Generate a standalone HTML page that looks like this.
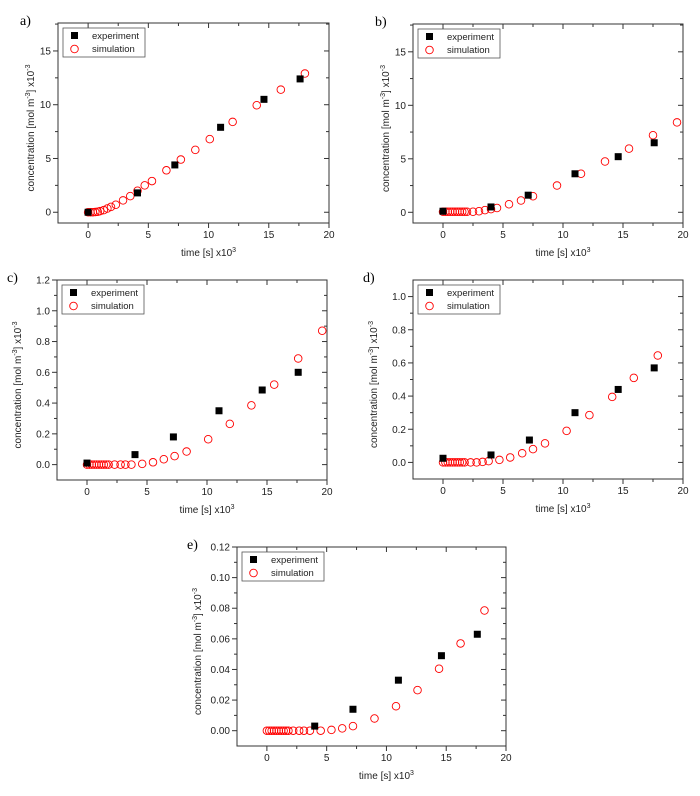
<!DOCTYPE html>
<html><head><meta charset="utf-8">
<style>
body{margin:0;background:#fff;width:700px;height:796px;overflow:hidden}
svg{position:absolute;left:0;top:0}
text{font-family:"Liberation Sans",sans-serif;fill:#222}
.pl{font-family:"Liberation Serif",serif;font-size:14px;fill:#000}
</style></head>
<body>
<svg id="fig" width="700" height="796" viewBox="0 0 700 796"></svg>
<script>
// Panel a
const aExpX=[0,4.1,7.2,11,14.6,17.6];
const aExpY=[0,1.8,4.4,7.9,10.5,12.4];
const aSimX=[0,0.2,0.4,0.6,0.8,1.0,1.3,1.6,1.9,2.3,2.9,3.5,4.1,4.7,5.3,6.5,7.7,8.9,10.1,12,14,16,18];
const aSimY=[0,0,0,0.02,0.05,0.1,0.2,0.35,0.5,0.7,1.1,1.5,2.0,2.5,2.9,3.9,4.9,5.8,6.8,8.4,9.95,11.4,12.9];
const aYTicks=[0,5,10,15];
// Panel b
const bExpX=[0,4,7.1,11,14.6,17.6];
const bExpY=[0.1,0.5,1.6,3.6,5.2,6.5];
const bSimX=[0,0.2,0.4,0.6,0.8,1.0,1.2,1.4,1.6,1.8,2.0,2.5,3,3.5,4,4.5,5.5,6.5,7.5,9.5,11.5,13.5,15.5,17.5,19.5];
const bSimY=[0.05,0.05,0.05,0.05,0.05,0.05,0.05,0.05,0.05,0.05,0.05,0.05,0.1,0.2,0.3,0.4,0.75,1.1,1.5,2.5,3.6,4.75,5.95,7.2,8.4];
const bYTicks=[0,5,10,15];
// Panel c
const cExpX=[0,4,7.2,11,14.6,17.6];
const cExpY=[0.01,0.065,0.18,0.35,0.485,0.6];
const cSimX=[0,0.2,0.4,0.6,0.8,1.0,1.2,1.4,1.6,1.8,2.3,2.8,3.2,3.7,4.6,5.5,6.4,7.3,8.3,10.1,11.9,13.7,15.6,17.6,19.6];
const cSimY=[0,0,0,0,0,0,0,0,0,0,0,0,0,0,0.005,0.015,0.035,0.055,0.085,0.165,0.265,0.385,0.52,0.69,0.87];
const cYTicks=[0,0.2,0.4,0.6,0.8,1.0,1.2];
// Panel d
const dExpX=[0,4,7.2,11,14.6,17.6];
const dExpY=[0.025,0.045,0.135,0.3,0.44,0.57];
const dSimX=[0,0.2,0.4,0.6,0.8,1.0,1.2,1.4,1.6,1.8,2.3,2.8,3.3,3.8,4.7,5.6,6.6,7.5,8.5,10.3,12.2,14.1,15.9,17.9];
const dSimY=[0,0,0,0,0,0,0,0,0,0,0,0,0.003,0.008,0.015,0.03,0.055,0.08,0.115,0.19,0.285,0.395,0.51,0.645];
const dYTicks=[0,0.2,0.4,0.6,0.8,1.0];
// Panel e
const eExpX=[4,7.2,11,14.6,17.6];
const eExpY=[0.003,0.014,0.033,0.049,0.063];
const eSimX=[0,0.2,0.4,0.6,0.8,1.0,1.2,1.4,1.6,1.8,2.2,2.7,3.1,3.6,4.5,5.4,6.3,7.2,9,10.8,12.6,14.4,16.2,18.2];
const eSimY=[0,0,0,0,0,0,0,0,0,0,0,0,0,0,0,0.0005,0.0015,0.003,0.008,0.016,0.0265,0.0405,0.057,0.0785];
const eYTicks=[0,0.02,0.04,0.06,0.08,0.10,0.12];
const xTicks=[0,5,10,15,20];

const NS="http://www.w3.org/2000/svg";
const fig=document.getElementById('fig');
function mk(parent,tag,attrs){const e=document.createElementNS(NS,tag);for(const k in attrs)e.setAttribute(k,attrs[k]);parent.appendChild(e);return e;}

function panel(id,label,L,T,R,B,ymin,ymax,yTicks,dec,expX,expY,simX,simY){
  const g=mk(fig,'g',{});
  
  
  const xmin=-2.5,xmax=20;
  const sx=v=>L+(v-xmin)/(xmax-xmin)*(R-L);
  const sy=v=>B-(v-ymin)/(ymax-ymin)*(B-T);
  const frame=mk(g,'rect',{x:L,y:T,width:R-L,height:B-T,fill:'none',stroke:'#333','stroke-width':1});
  
  
  const ax=mk(g,'g',{stroke:'#333','stroke-width':1});
  
  
  xTicks.forEach((t,i)=>{
    const x=sx(t);
    mk(ax,'line',{x1:x,x2:x,y1:B,y2:B+5});
    mk(ax,'line',{x1:x,x2:x,y1:T,y2:T+5});
    const m=sx(t-2.5);
    if(m>L){mk(ax,'line',{x1:m,x2:m,y1:B,y2:B+3});mk(ax,'line',{x1:m,x2:m,y1:T,y2:T+3});}
    const tx=mk(g,'text',{x:x,y:B+15,'font-size':10,'text-anchor':'middle'});
    tx.textContent=String(t);
    
    
  });
  const step=yTicks[1]-yTicks[0];
  yTicks.forEach(t=>{
    const y=sy(t);
    mk(ax,'line',{x1:L-5,x2:L,y1:y,y2:y});
    mk(ax,'line',{x1:R-5,x2:R,y1:y,y2:y});
    const my=sy(t+step/2);
    if(my>T){mk(ax,'line',{x1:L-3,x2:L,y1:my,y2:my});mk(ax,'line',{x1:R-3,x2:R,y1:my,y2:my});}
    const tx=mk(g,'text',{x:L-7,y:y+3.5,'font-size':10,'text-anchor':'end'});
    tx.textContent=t.toFixed(dec);
    
    
  });
  const xt=mk(g,'text',{x:(sx(0)+sx(20))/2,y:B+33,'font-size':10,'text-anchor':'middle'});
  xt.innerHTML='time [s] x10<tspan dy="-4" font-size="7">3</tspan>';
  
  
  const yx=L-(dec>0?36:24), yc=(T+B)/2+5;
  const yt=mk(g,'text',{x:yx,y:yc,'font-size':10,'text-anchor':'middle',transform:'rotate(-90 '+yx+' '+yc+')'});
  yt.innerHTML='concentration [mol m<tspan dy="-4" font-size="7">-3</tspan><tspan dy="4">] x10</tspan><tspan dy="-4" font-size="7">-3</tspan>';
  
  
  const pl=mk(g,'text',{x:L-(dec>0?50:38),y:T+2,class:'pl'});
  pl.textContent=label;
  
  
  // series
  const sim=mk(g,'g',{});
  
  
  simX.forEach((v,i)=>{
    const c=mk(sim,'circle',{cx:sx(v),cy:sy(simY[i]),r:3.8,fill:'none',stroke:'#f00','stroke-width':0.9});
    
    
  });
  const ex=mk(g,'g',{});
  
  
  expX.forEach((v,i)=>{
    const r=mk(ex,'rect',{x:sx(v)-3.5,y:sy(expY[i])-3.5,width:7,height:7,fill:'#000'});
    
    
  });
  // legend
  const lg=mk(g,'g',{});
  
  
  const lx=L+5,ly=T+5;
  mk(lg,'rect',{x:lx,y:ly,width:82,height:29,fill:'#fff',stroke:'#555','stroke-width':0.8});
  mk(lg,'rect',{x:lx+8,y:ly+4,width:7,height:7,fill:'#000'});
  mk(lg,'circle',{cx:lx+11.5,cy:ly+21,r:3.8,fill:'none',stroke:'#f00','stroke-width':0.9});
  const t1=mk(lg,'text',{x:lx+29,y:ly+11,'font-size':9.5});t1.textContent='experiment';
  
  
  const t2=mk(lg,'text',{x:lx+29,y:ly+24,'font-size':9.5});t2.textContent='simulation';
  
  
}
panel('a','a)',58,23,329,223,-1,17.6,aYTicks,0,aExpX,aExpY,aSimX,aSimY);
panel('b','b)',413,24,683,223,-1,17.6,bYTicks,0,bExpX,bExpY,bSimX,bSimY);
panel('c','c)',57,280,327,480,-0.1,1.2,cYTicks,1,cExpX,cExpY,cSimX,cSimY);
panel('d','d)',413,280,683,479,-0.1,1.1,dYTicks,1,dExpX,dExpY,dSimX,dSimY);
panel('e','e)',237,547,506,746,-0.01,0.12,eYTicks,2,eExpX,eExpY,eSimX,eSimY);
</script>
</body></html>
